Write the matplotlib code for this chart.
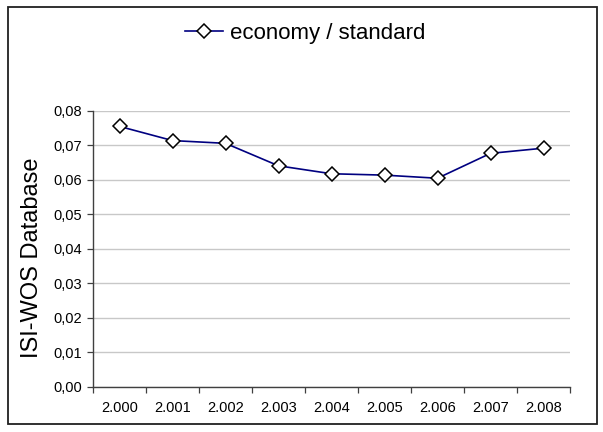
import matplotlib
matplotlib.use("Agg")
import matplotlib.pyplot as plt
from matplotlib.patches import Rectangle
from matplotlib.ticker import FixedLocator, FuncFormatter

plt.rcParams['font.family'] = ['Liberation Sans', 'DejaVu Sans']

years = ["2.000", "2.001", "2.002", "2.003", "2.004", "2.005", "2.006", "2.007", "2.008"]
values = [0.0754, 0.0713, 0.0705, 0.0640, 0.0617, 0.0613, 0.0604, 0.0676, 0.0691]
series_name = "economy / standard"
y_label = "ISI-WOS Database"
y_ticks = [0.00, 0.01, 0.02, 0.03, 0.04, 0.05, 0.06, 0.07, 0.08]

fig = plt.figure(figsize=(6.03, 4.32), dpi=100)
fig.patches.append(Rectangle((8/603, 1-424/432), 589/603, 417/432, transform=fig.transFigure,
                             fill=False, edgecolor='#202020', linewidth=1.3))

ax = fig.add_axes([93/603, 1-387/432, 477/603, (387-110.5)/432])
x = list(range(len(years)))
ax.plot(x, values, color='#000080', linewidth=1.2, marker='D', markersize=6.8,
        markerfacecolor='white', markeredgecolor='black', markeredgewidth=1.1,
        label=series_name, zorder=3)

ax.set_xlim(-0.5, len(years) - 0.5)
ax.set_ylim(0, 0.08)
ax.set_yticks(y_ticks)
ax.yaxis.set_major_formatter(FuncFormatter(lambda v, p: f"{v:.2f}".replace('.', ',')))
ax.set_xticks(x)
ax.set_xticklabels(years)
ax.xaxis.set_minor_locator(FixedLocator([i - 0.5 for i in range(len(years) + 1)]))
ax.tick_params(axis='x', which='major', length=0, pad=10, labelsize=10.5, colors='black')
ax.tick_params(axis='x', which='minor', length=4, width=0.9, direction='out', color='#404040')
ax.tick_params(axis='y', length=4, width=0.9, direction='out', color='#404040', labelsize=10.5, pad=4)

ax.grid(axis='y', color='#c8c8c8', linewidth=1.0)
ax.set_axisbelow(True)
for s in ['top', 'right']:
    ax.spines[s].set_visible(False)
for s in ['left', 'bottom']:
    ax.spines[s].set_color('#404040')
    ax.spines[s].set_linewidth(1.0)

fig.text(32/603, 1-258/432, y_label, rotation=90, fontsize=17, ha='center', va='center')

leg = fig.legend(loc='center', bbox_to_anchor=(305/603, 1-33/432), frameon=False,
                 fontsize=16, handlelength=1.7, handletextpad=0.3)

fig.savefig("out.png", dpi=100)
